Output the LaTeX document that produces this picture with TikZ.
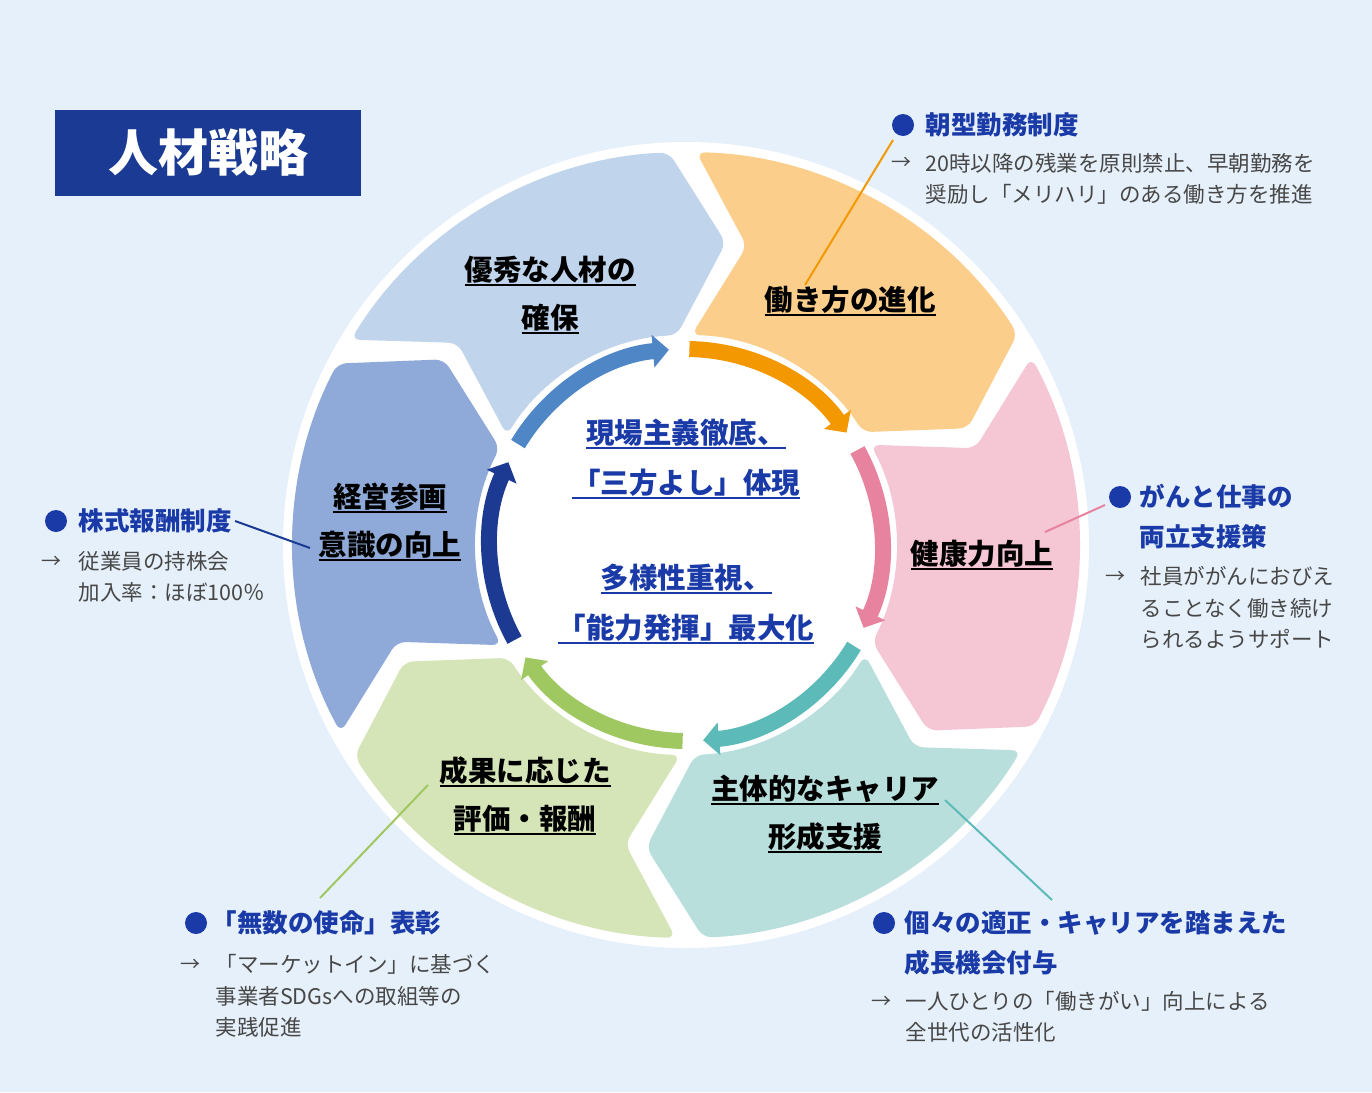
\documentclass[tikz,border=0pt]{standalone}
\usepackage{fontspec}
\setmainfont{Noto Sans CJK JP}
\usetikzlibrary{arrows.meta}
\definecolor{bgblue}{HTML}{E6F0FA}
\definecolor{navy}{HTML}{1A3A93}
\definecolor{dotblue}{HTML}{1A3AA8}
\definecolor{segA}{HTML}{C0D4EC}
\definecolor{segB}{HTML}{FBCF8B}
\definecolor{segC}{HTML}{F5C6D4}
\definecolor{segD}{HTML}{B9DFDD}
\definecolor{segE}{HTML}{D5E5B8}
\definecolor{segF}{HTML}{8FAAD8}
\definecolor{arcA}{HTML}{4F86C6}
\definecolor{arcB}{HTML}{F39800}
\definecolor{arcC}{HTML}{E7829F}
\definecolor{arcD}{HTML}{5CBBB9}
\definecolor{arcE}{HTML}{9FC860}
\definecolor{arcF}{HTML}{1D3A93}
\newcommand\ulin[1]{\setbox0\hbox{#1}\rlap{\rule[-6pt]{\wd0}{2.5pt}}\box0}
\begin{document}
\begin{tikzpicture}[
    x=1pt, y=-1pt,
    seglabel/.style={align=center, font=\fontsize{28.5}{48}\selectfont\bfseries, text=black},
    midlabel/.style={align=center, font=\fontsize{28.5}{50}\selectfont\bfseries, text=dotblue},
    headline/.style={anchor=west, align=left, font=\fontsize{25.5}{40}\selectfont\bfseries, text=dotblue},
    note/.style={anchor=west, align=left, font=\fontsize{21.5}{31.5}\selectfont, text=black!72},
    arrowmark/.style={anchor=west, font=\fontsize{20}{24}\selectfont, text=black!72},
    dot/.style={circle, fill=dotblue, minimum size=22pt, inner sep=0pt}
]
\useasboundingbox[fill=bgblue] (0,0) rectangle (1372,1092);
% title
\node[fill=navy, minimum width=306pt, minimum height=86pt, text=white,
      font=\fontsize{50}{50}\selectfont\bfseries] (title) at (208,153) {人材戦略};
% wheel
\begin{scope}[shift={(686,545)}, yscale=-1]
    \fill[white] (0,0) circle[radius=403];
    \foreach \a/\b/\c in {150.5/90.5/segA, 90.5/30.5/segB, 30.5/-29.5/segC,
                          -29.5/-89.5/segD, -89.5/-149.5/segE, 210.5/150.5/segF} {
        \pgfmathsetmacro\sa{\a-2}
        \pgfmathsetmacro\eb{\b+2}
        \pgfmathsetmacro\tb{\b-8}
        \pgfmathsetmacro\na{\a-12}
        \fill[\c, rounded corners=9pt] (\sa:393) arc[start angle=\sa, end angle=\eb, radius=393]
            -- (\tb:305) -- (\eb:210) arc[start angle=\eb, end angle=\sa, radius=210]
            -- (\na:305) -- cycle;
    }
    \foreach \a/\b/\c in {150/90/arcA, 90/30/arcB, 30/-30/arcC,
                          -30/-90/arcD, -90/-150/arcE, 210/150/arcF} {
        \pgfmathsetmacro\sa{\a-1}
        \pgfmathsetmacro\eb{\b+5}
        \draw[\c, line width=16pt, -{Triangle[width=32pt, length=16pt]}]
            (\sa:196) arc[start angle=\sa, end angle=\eb, radius=196];
    }
\end{scope}
% segment labels
\node[seglabel] (talent) at (550,295) {\ulin{優秀な人材の}\\\ulin{確保}};
\node[seglabel] (work) at (850,301) {\ulin{働き方の進化}};
\node[seglabel] (health) at (982,555) {\ulin{健康力向上}};
\node[seglabel] (career) at (825,814) {\ulin{主体的なキャリア}\\\ulin{形成支援}};
\node[seglabel] (reward) at (525,796) {\ulin{成果に応じた}\\\ulin{評価・報酬}};
\node[seglabel] (manage) at (390,522) {\ulin{経営参画}\\\ulin{意識の向上}};
% centre
\node[midlabel] (site) at (686,459) {\ulin{現場主義徹底、}\\\ulin{「三方よし」体現}};
\node[midlabel] (diverse) at (686,604) {\ulin{多様性重視、}\\\ulin{「能力発揮」最大化}};
% morning work
\node[dot] (dotA) at (903,125) {};
\node[headline] (headA) at (922,125) {朝型勤務制度};
\node[arrowmark] (arrA) at (888,163) {→};
\node[note] (noteA) at (922,179) {20時以降の残業を原則禁止、早朝勤務を\\奨励し「メリハリ」のある働き方を推進};
\coordinate (endA) at (805,285);
\draw[arcB, line width=2pt] (893,140) -- (endA);
% stock
\node[dot] (dotB) at (56,521) {};
\node[headline] (headB) at (75,521) {株式報酬制度};
\node[arrowmark] (arrB) at (38,562) {→};
\node[note] (noteB) at (75,577) {従業員の持株会\\加入率：ほぼ100％};
\coordinate (endB) at (310,548);
\draw[navy, line width=2pt] (headB.east) -- (endB);
% cancer support
\node[dot] (dotC) at (1120,497) {};
\node[headline] (headC) at (1136,517) {がんと仕事の\\両立支援策};
\node[arrowmark] (arrC) at (1102,577) {→};
\node[note] (noteC) at (1137,608) {社員ががんにおびえ\\ることなく働き続け\\られるようサポート};
\coordinate (endC) at (1045,532);
\draw[arcC, line width=2pt] (1105,505) -- (endC);
% awards
\node[dot] (dotD) at (196,923) {};
\node[headline] (headD) at (208,923) {「無数の使命」表彰};
\node[arrowmark] (arrD) at (177,965) {→};
\node[note] (noteD) at (212,996) {「マーケットイン」に基づく\\事業者SDGsへの取組等の\\実践促進};
\coordinate (endD) at (428,785);
\draw[arcE, line width=2pt] (320,898) -- (endD);
% growth chances
\node[dot] (dotE) at (884,923) {};
\node[headline] (headE) at (901,943) {個々の適正・キャリアを踏まえた\\成長機会付与};
\node[arrowmark] (arrE) at (868,1002) {→};
\node[note] (noteE) at (902,1017) {一人ひとりの「働きがい」向上による\\全世代の活性化};
\coordinate (endE) at (945,800);
\draw[arcD, line width=2pt] (1052,900) -- (endE);
\end{tikzpicture}
\end{document}
